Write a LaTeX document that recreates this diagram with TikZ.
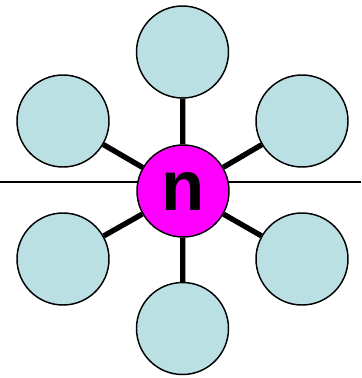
\documentclass[tikz,border=0pt]{standalone}
\usepackage{fontspec}
\setmainfont{Liberation Sans}
\definecolor{leafblue}{RGB}{187,224,227}
\definecolor{hubpink}{RGB}{255,0,255}
\tikzset{
  hub/.style={circle, draw, line width=1.1pt, fill=hubpink, minimum size=69pt, inner sep=0pt, font=\bfseries\fontsize{53}{53}\selectfont},
  leaf/.style={circle, draw, line width=1.1pt, fill=leafblue, minimum size=69pt, inner sep=0pt},
  spoke/.style={line width=4pt}
}
\begin{document}
\begin{tikzpicture}[x=0.75pt, y=-0.75pt]
\useasboundingbox (0,0) rectangle (361,378);

% horizontal line
\coordinate (left) at (0,182);
\coordinate (right) at (361,182);
\draw[line width=1.1pt] (left) -- (right);

% center
\node[hub] (n) at (183,191) {n};

% outer circles
\node[leaf] (top) at (182.5,52) {};
\node[leaf] (ul) at (63,121) {};
\node[leaf] (ur) at (302,121) {};
\node[leaf] (ll) at (63,259) {};
\node[leaf] (lr) at (302,259) {};
\node[leaf] (bot) at (182.5,328.5) {};

% spokes
\foreach \o in {top,ul,ur,ll,lr,bot}
  \draw[spoke] (n) -- (\o);

\end{tikzpicture}
\end{document}
